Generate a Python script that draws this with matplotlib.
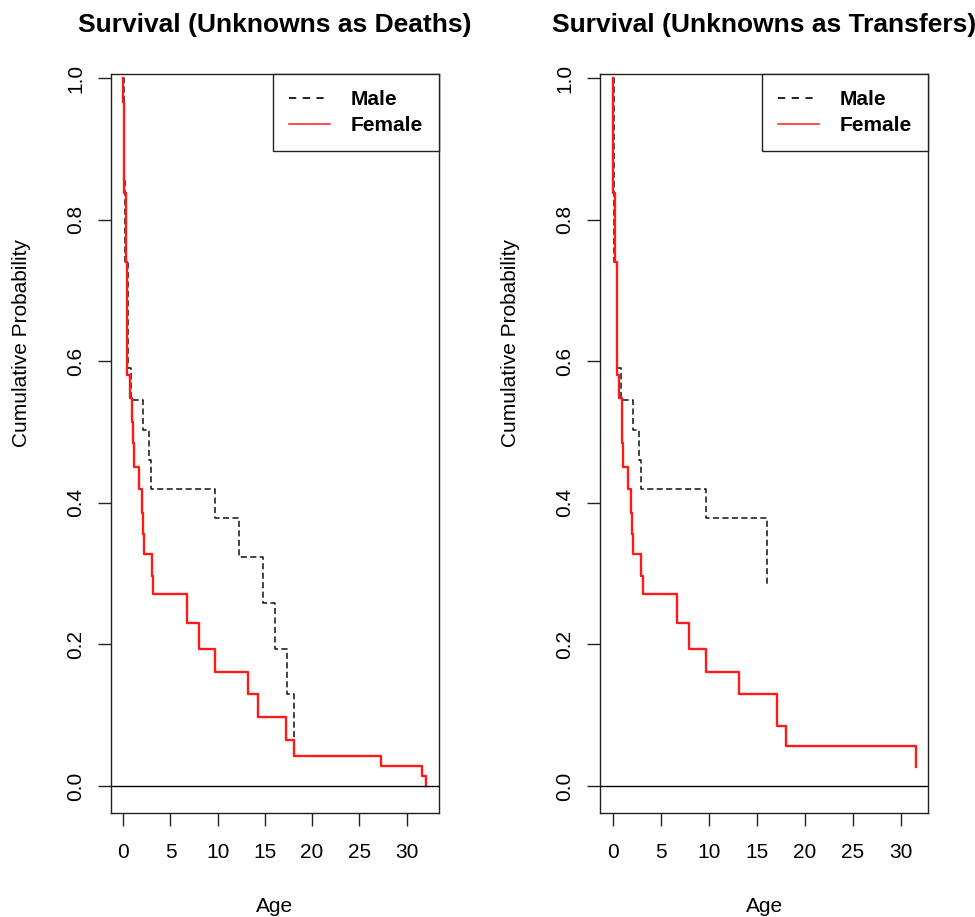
import matplotlib.pyplot as plt
from matplotlib.lines import Line2D

plt.rcParams['font.family'] = ['Liberation Sans', 'DejaVu Sans']

# Kaplan-Meier steps: age of each step and survival after it
# unknowns counted as deaths
deaths_male_age = [0.0, 0.1, 0.18, 0.45, 0.85, 2.12, 2.75, 2.93, 9.7, 12.28, 14.75, 16.05, 17.29, 18.1]
deaths_male_surv = [1.0, 0.86, 0.74, 0.59, 0.545, 0.503, 0.46, 0.419, 0.378, 0.323, 0.259, 0.194, 0.13, 0.065]
deaths_female_age = [0.0, 0.02, 0.07, 0.29, 0.42, 0.71, 0.95, 1.06, 1.16, 1.69, 1.95, 2.05, 2.16, 3.0, 3.17,
                     6.77, 7.98, 9.7, 13.16, 14.29, 17.19, 18.1, 27.27, 31.6, 32.1]
deaths_female_surv = [1.0, 0.966, 0.837, 0.74, 0.58, 0.548, 0.514, 0.484, 0.451, 0.419, 0.386, 0.356, 0.328, 0.297,
                      0.271, 0.231, 0.194, 0.161, 0.13, 0.097, 0.065, 0.043, 0.0285, 0.014, 0.0]

# unknowns counted as transfers
transfers_male_age = [0.0, 0.1, 0.18, 0.45, 0.85, 2.14, 2.77, 2.95, 9.69, 16.1]
transfers_male_surv = [1.0, 0.86, 0.74, 0.59, 0.545, 0.503, 0.46, 0.419, 0.378, 0.2825]
transfers_female_age = [0.0, 0.02, 0.07, 0.29, 0.42, 0.71, 0.94, 1.02, 1.1, 1.63, 1.9, 2.0, 2.15, 2.95, 3.19,
                        6.73, 7.95, 9.69, 13.16, 17.15, 18.05, 31.6]
transfers_female_surv = [1.0, 0.966, 0.837, 0.74, 0.58, 0.548, 0.514, 0.484, 0.451, 0.419, 0.386, 0.356, 0.328,
                         0.297, 0.271, 0.231, 0.194, 0.161, 0.13, 0.085, 0.0565, 0.0273]

x_ticks = [0, 5, 10, 15, 20, 25, 30]
y_ticks = [0.0, 0.2, 0.4, 0.6, 0.8, 1.0]
titles = ["Survival (Unknowns as Deaths)", "Survival (Unknowns as Transfers)"]
groups = ["Male", "Female"]


def plot_panel(ax, title, male_age, male_surv, female_age, female_surv, xlim):
    ax.step(male_age, male_surv, where='post', color='#111111', lw=1.1,
            linestyle=(0, (4.0, 2.2)))
    ax.step(female_age, female_surv, where='post', color='#ff1a1a', lw=1.7)
    ax.axhline(0, color='black', lw=1)

    ax.set_xlim(xlim)
    ax.set_ylim(-0.038, 1.0056)
    ax.set_xticks(x_ticks)
    ax.set_yticks(y_ticks)
    ax.set_yticklabels(["%.1f" % v for v in y_ticks], rotation=90, va='center')
    ax.tick_params(length=9.5, width=1, labelsize=15, color='#222222')
    ax.tick_params(axis='x', pad=12)
    ax.tick_params(axis='y', pad=9)
    for s in ax.spines.values():
        s.set_color('#222222')
        s.set_linewidth(1)

    ax.set_title(title, fontsize=19, fontweight='bold', pad=30)
    ax.set_xlabel("Age", fontsize=15, va='center')
    ax.xaxis.set_label_coords(0.5, -0.126)
    ax.set_ylabel("Cumulative Probability", fontsize=15, va='center')
    ax.yaxis.set_label_coords(-0.274, 0.636)

    # legend lines are drawn thin, as in the original
    handles = [Line2D([], [], color='#111111', lw=1.3, linestyle=(0, (4.0, 3.6))),
               Line2D([], [], color='#ff1a1a', lw=1.1)]
    leg = ax.legend(handles, groups, loc='upper right', borderaxespad=0, fancybox=False, framealpha=1,
                    prop={'weight': 'bold', 'size': 15}, handlelength=1.95, handletextpad=1.0,
                    labelspacing=0.33, borderpad=0.78)
    leg.get_frame().set_edgecolor('#222222')
    leg.get_frame().set_linewidth(1)


fig = plt.figure(figsize=(9.75, 9.17), dpi=100)
ax1 = fig.add_axes([0.11385, 0.11341, 0.33641, 0.80589])
ax2 = fig.add_axes([0.61538, 0.11341, 0.3367, 0.80589])

plot_panel(ax1, titles[0], deaths_male_age, deaths_male_surv, deaths_female_age, deaths_female_surv, (-1.3, 33.44))
plot_panel(ax2, titles[1], transfers_male_age, transfers_male_surv, transfers_female_age, transfers_female_surv,
           (-1.32, 32.88))

fig.savefig("out.png", dpi=100)
